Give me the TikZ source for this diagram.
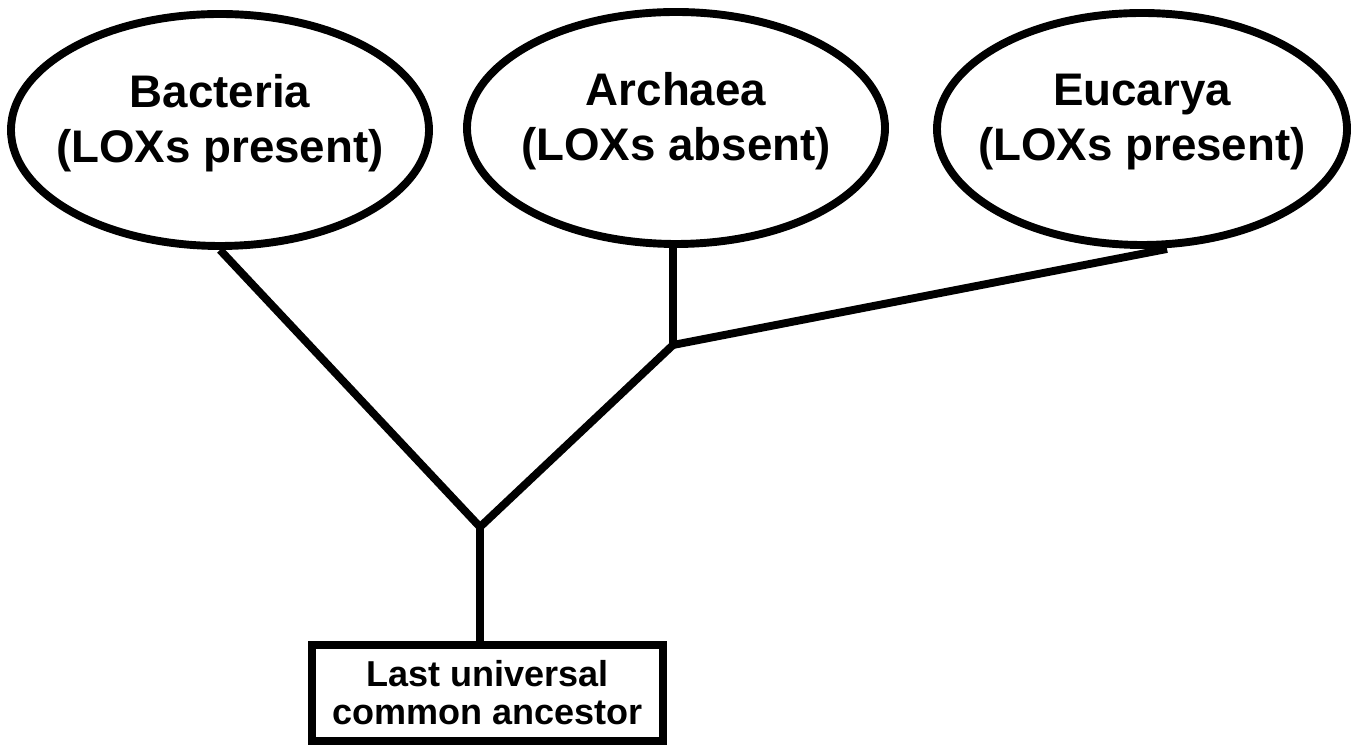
\documentclass[tikz,border=0pt]{standalone}
\usepackage{fontspec}
\setmainfont{Liberation Sans}
\usepackage{tikz}
\usetikzlibrary{shapes, positioning}
\tikzstyle{branch} = [line width=4.5pt, line join=miter]
\tikzstyle{lineage} = [ellipse, draw=black, line width=4.5pt, minimum width=8.36cm, minimum height=4.64cm,
                       inner xsep=-1cm, align=center, text depth=0.46cm,
                       font=\fontsize{26}{31.3}\selectfont\bfseries]
\tikzstyle{ancestor} = [rectangle, draw=black, line width=4.5pt, minimum width=7.02cm, minimum height=1.92cm,
                        align=center, font=\fontsize{20.5}{21.6}\selectfont\bfseries]

\begin{document}
\begin{tikzpicture}
	\useasboundingbox (0, 0) rectangle (27.22, 14.9);

	% the three domains
	\node (Bacteria) [lineage] at (4.4, 12.3) {Bacteria\\(LOXs present)};
	\node (Archaea) [lineage] at (13.52, 12.34) {Archaea\\(LOXs absent)};
	\node (Eucarya) [lineage, minimum width=8.2cm] at (22.84, 12.32) {Eucarya\\(LOXs present)};

	% the root
	\node (LUCA) [ancestor] at (9.75, 1.04) {Last universal\\common ancestor};

	\coordinate (Root) at (9.6, 4.36);
	\coordinate (Split) at (13.46, 8);
	\coordinate (EucaryaIn) at ([xshift=0.5cm]Eucarya.south);

	\draw [branch] (Root) -- (Root |- LUCA.north);
	\draw [branch] (Bacteria.south) -- (Root);
	\draw [branch] (Root) -- (Split);
	\draw [branch] (Split) -- (Split |- Archaea.south);
	\draw [branch] (Split) -- (EucaryaIn);
\end{tikzpicture}
\end{document}
